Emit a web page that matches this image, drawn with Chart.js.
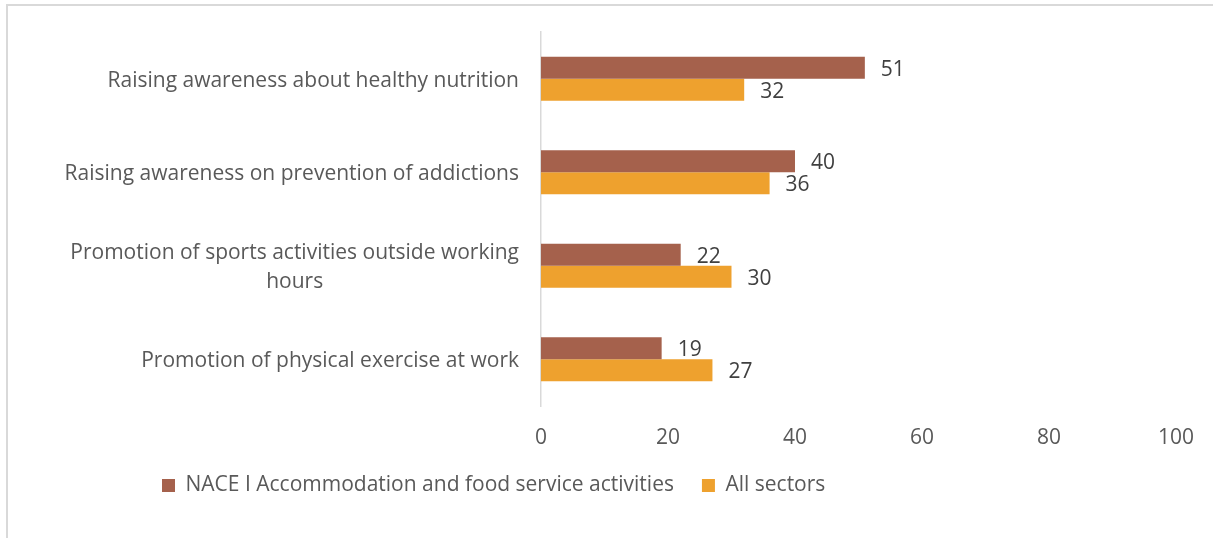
<!DOCTYPE html>
<html>
<head>
<meta charset="utf-8">
<script src="https://cdn.jsdelivr.net/npm/chart.js@4"></script>
<style>
  html, body { margin: 0; padding: 0; background: #fff; overflow: hidden; }
  #frame { position: absolute; left: 6px; top: 4px; width: 1300px; height: 700px; border: 2px solid #d9d9d9; }
  #wrap { position: absolute; left: 0; top: 0; width: 1213px; height: 538px; }
</style>
</head>
<body>
<div id="frame"></div>
<div id="wrap"><canvas id="chart"></canvas></div>
<script>
const categories = [
    ['Raising awareness about healthy nutrition'],
    ['Raising awareness on prevention of addictions'],
    ['Promotion of sports activities outside working', 'hours'],
    ['Promotion of physical exercise at work']
];
const naceValues = [51, 40, 22, 19];
const allSectorsValues = [32, 36, 30, 27];
const xTicks = [0, 20, 40, 60, 80, 100];

const FONT = '"Open Sans", sans-serif';
const FONT_SIZE = 21;

// category names, each line centred on the widest line of its label
const categoryLabels = {
    id: 'categoryLabels',
    afterDraw(chart) {
        const ctx = chart.ctx;
        const yScale = chart.scales.y;
        ctx.save();
        ctx.font = `${FONT_SIZE}px ${FONT}`;
        ctx.fillStyle = '#595959';
        ctx.textAlign = 'center';
        ctx.textBaseline = 'middle';
        categories.forEach((lines, i) => {
            const widest = Math.max(...lines.map(l => ctx.measureText(l).width));
            const cx = chart.chartArea.left - 22 - widest / 2;
            const cy = yScale.getPixelForValue(i) + 2;
            lines.forEach((line, j) => {
                ctx.fillText(line, cx, cy + (j - (lines.length - 1) / 2) * 29);
            });
        });
        ctx.restore();
    }
};

// value printed just past the end of each bar
const valueLabels = {
    id: 'valueLabels',
    afterDatasetsDraw(chart) {
        const ctx = chart.ctx;
        ctx.save();
        ctx.font = `${FONT_SIZE}px ${FONT}`;
        ctx.fillStyle = '#404040';
        ctx.textAlign = 'left';
        ctx.textBaseline = 'middle';
        chart.data.datasets.forEach((ds, d) => {
            chart.getDatasetMeta(d).data.forEach((bar, i) => {
                ctx.fillText(ds.data[i], bar.x + 16, bar.y + 2);
            });
        });
        ctx.restore();
    }
};

new Chart(document.getElementById('chart'), {
    type: 'bar',
    data: {
        labels: categories,
        datasets: [{
            label: 'NACE I Accommodation and food service activities',
            data: naceValues,
            backgroundColor: '#a5614c',
            categoryPercentage: 0.47,
            barPercentage: 1.0
        }, {
            label: 'All sectors',
            data: allSectorsValues,
            backgroundColor: '#eea12e',
            categoryPercentage: 0.47,
            barPercentage: 1.0
        }]
    },
    options: {
        indexAxis: 'y',
        responsive: true,
        maintainAspectRatio: false,
        animation: false,
        layout: {
            padding: { left: 134, right: 35, top: 32, bottom: 32 }
        },
        scales: {
            x: {
                min: 0,
                max: 100,
                afterBuildTicks: scale => { scale.ticks = xTicks.map(v => ({ value: v })); },
                afterFit: scale => { scale.height = 41; },
                grid: { display: false, drawTicks: false },
                border: { display: false },
                ticks: {
                    padding: 19,
                    color: '#595959',
                    font: { family: FONT, size: FONT_SIZE }
                }
            },
            y: {
                grid: { display: false, drawTicks: false },
                border: { display: true, color: '#d9d9d9', width: 1.5 },
                ticks: { display: false },
                afterFit: scale => { scale.width = 407; }
            }
        },
        plugins: {
            legend: {
                position: 'bottom',
                align: 'start',
                labels: {
                    boxWidth: 13,
                    boxHeight: 13,
                    padding: 28,
                    color: '#595959',
                    font: { family: FONT, size: FONT_SIZE }
                }
            },
            tooltip: { enabled: false }
        }
    },
    plugins: [categoryLabels, valueLabels]
});
</script>
</body>
</html>
